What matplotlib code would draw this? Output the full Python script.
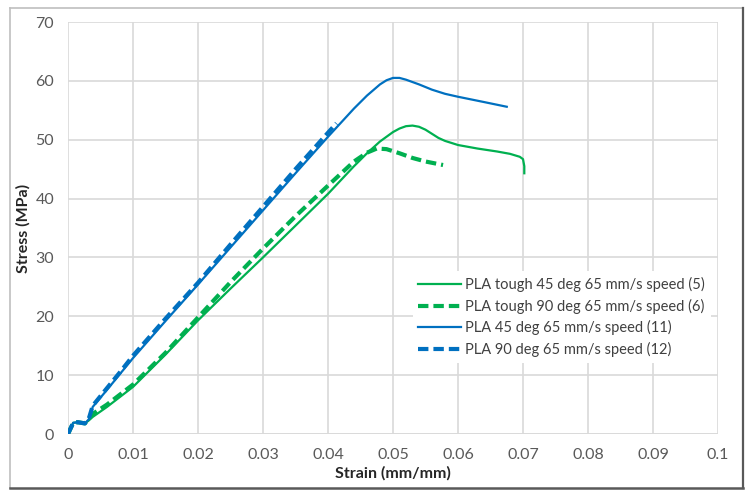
import matplotlib.pyplot as plt
from matplotlib.lines import Line2D

# strain (mm/mm) / stress (MPa)
tough45_strain = [0, 0.0008, 0.0015, 0.0026, 0.0032, 0.0038, 0.006, 0.008, 0.01, 0.015,
                  0.02, 0.025, 0.03, 0.035, 0.04, 0.044, 0.046, 0.048, 0.05, 0.051,
                  0.052, 0.053, 0.054, 0.055, 0.056, 0.057, 0.058, 0.06, 0.063, 0.066,
                  0.068, 0.0695, 0.07, 0.0702, 0.0702]
tough45_stress = [0, 1.9, 2.0, 1.8, 2.3, 2.9, 4.6, 6.3, 8.0, 13.5,
                  19.3, 24.7, 30.0, 35.4, 40.8, 45.5, 47.7, 49.7, 51.3, 51.9,
                  52.3, 52.4, 52.2, 51.7, 51.0, 50.3, 49.8, 49.1, 48.5, 48.0,
                  47.6, 47.1, 46.7, 45.5, 44.3]

tough90_strain = [0, 0.0008, 0.0015, 0.0026, 0.0032, 0.0038, 0.006, 0.008, 0.01, 0.015,
                  0.02, 0.025, 0.03, 0.035, 0.04, 0.044, 0.046, 0.0475, 0.049, 0.051,
                  0.053, 0.055, 0.0577]
tough90_stress = [0, 1.9, 2.0, 1.8, 2.6, 3.4, 5.0, 6.7, 8.4, 13.8,
                  19.8, 25.8, 31.5, 37.0, 42.2, 46.3, 47.8, 48.5, 48.4, 47.7,
                  46.9, 46.3, 45.7]

pla45_strain = [0, 0.0008, 0.0015, 0.0026, 0.0032, 0.0038, 0.006, 0.008, 0.01, 0.015,
                0.02, 0.025, 0.03, 0.035, 0.04, 0.042, 0.044, 0.046, 0.048, 0.049,
                0.05, 0.051, 0.052, 0.054, 0.056, 0.058, 0.06, 0.064, 0.0675]
pla45_stress = [0, 1.9, 2.0, 1.8, 2.5, 4.6, 7.5, 10.2, 12.9, 19.2,
                25.4, 31.7, 38.0, 44.3, 50.5, 52.9, 55.3, 57.5, 59.4, 60.1,
                60.5, 60.5, 60.2, 59.4, 58.5, 57.8, 57.3, 56.4, 55.6]

pla90_strain = [0, 0.0008, 0.0015, 0.0026, 0.0032, 0.0038, 0.006, 0.008, 0.01, 0.015,
                0.02, 0.025, 0.03, 0.035, 0.0413]
pla90_stress = [0, 1.9, 2.0, 1.8, 2.6, 4.8, 7.8, 10.5, 13.3, 19.6,
                25.7, 32.2, 38.6, 45.0, 52.8]

labels = ['PLA tough 45 deg 65 mm/s speed (5)', 'PLA tough 90 deg 65 mm/s speed (6)',
          'PLA 45 deg 65 mm/s speed (11)', 'PLA 90 deg 65 mm/s speed (12)']
x_ticks = [0, 0.01, 0.02, 0.03, 0.04, 0.05, 0.06, 0.07, 0.08, 0.09, 0.1]
x_tick_labels = ['0', '0.01', '0.02', '0.03', '0.04', '0.05', '0.06', '0.07', '0.08', '0.09', '0.1']
y_ticks = [0, 10, 20, 30, 40, 50, 60, 70]

green = '#00b050'
blue = '#0070c0'
grid_col = '#d9d9d9'
text_col = '#595959'

plt.rcParams['font.family'] = ['Lato', 'DejaVu Sans']

fig = plt.figure(figsize=(7.54, 5.0), dpi=100)
ax = fig.add_axes([68 / 754, 1 - 434 / 500, (718 - 68) / 754, (434 - 22) / 500])

ax.plot(tough45_strain, tough45_stress, color=green, lw=1.6, label=labels[0], zorder=3)
ax.plot(tough90_strain, tough90_stress, color=green, lw=3, dashes=(2.5, 1.2),
        label=labels[1], zorder=3)
ax.plot(pla45_strain, pla45_stress, color=blue, lw=1.6, label=labels[2], zorder=4)
ax.plot(pla90_strain, pla90_stress, color=blue, lw=3, dashes=(2.5, 1.2),
        label=labels[3], zorder=4)

ax.set_xlim(0, 0.1)
ax.set_ylim(0, 70)
ax.set_xticks(x_ticks)
ax.set_xticklabels(x_tick_labels)
ax.set_yticks(y_ticks)
ax.tick_params(length=0, labelsize=11.5, colors=text_col)
ax.tick_params(axis='x', pad=10)
ax.tick_params(axis='y', pad=10)
ax.grid(True, color=grid_col, lw=1.2)
ax.set_axisbelow(True)
for s in ax.spines.values():
    s.set_visible(False)
ax.axhline(0, color=grid_col, lw=1.2, zorder=1)

ax.set_xlabel('Strain (mm/mm)', fontsize=11.5, fontweight='bold', color='#262626')
ax.set_ylabel('Stress (MPa)', fontsize=11.5, fontweight='bold', color='#262626')
ax.xaxis.set_label_coords(0.5, -0.078)
ax.yaxis.set_label_coords(-0.058, 0.5)

handles = [Line2D([], [], color=green, lw=1.6),
           Line2D([], [], color=green, lw=3, dashes=(2.5, 1.2)),
           Line2D([], [], color=blue, lw=1.6),
           Line2D([], [], color=blue, lw=3, dashes=(2.5, 1.2))]
leg = ax.legend(handles, labels, loc='lower right', bbox_to_anchor=(1.0, 0.155),
                fontsize=10.5, frameon=True, handlelength=2.9, handletextpad=0.3,
                labelspacing=0.45, borderpad=0.4)
leg.get_frame().set_edgecolor('none')
leg.get_frame().set_facecolor('white')
leg.get_frame().set_alpha(1)
for t in leg.get_texts():
    t.set_color('#404040')

# outer chart border
fig.add_artist(Line2D([10 / 754, 10 / 754], [1 - 488 / 500, 1 - 8 / 500], color='#bfbfbf', lw=1.2))
fig.add_artist(Line2D([10 / 754, 743 / 754], [1 - 8 / 500, 1 - 8 / 500], color='#bfbfbf', lw=1.2))
fig.add_artist(Line2D([743 / 754, 743 / 754], [1 - 488 / 500, 1 - 8 / 500], color='#595959', lw=1.6))
fig.add_artist(Line2D([10 / 754, 743 / 754], [1 - 488 / 500, 1 - 488 / 500], color='#595959', lw=1.8))

fig.savefig('out.png', dpi=100)
